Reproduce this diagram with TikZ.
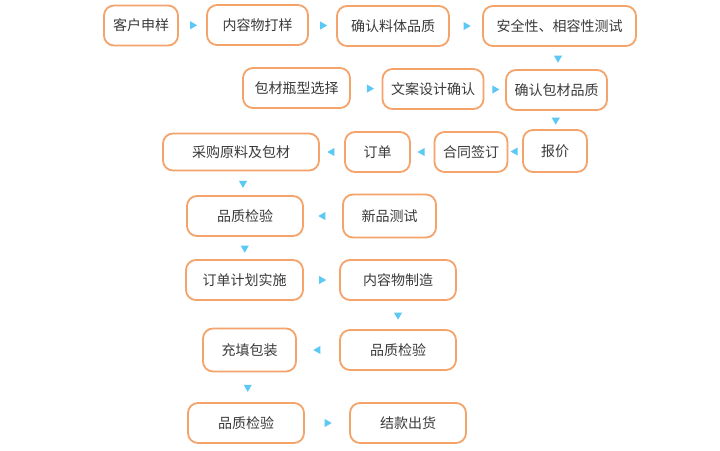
\documentclass[tikz,border=0pt]{standalone}
\usepackage{fontspec}
\newfontfamily\cjk{Noto Sans CJK SC}
\usetikzlibrary{shapes.geometric,calc}
\definecolor{boxc}{HTML}{F4A46A}
\definecolor{tric}{HTML}{5BC8F5}
\definecolor{txt}{HTML}{3A3A3A}
\tikzset{
  box/.style={draw=boxc, line width=1.8pt, rounded corners=10pt, minimum height=40pt,
    text=txt, font=\cjk\fontsize{14}{16}\selectfont, inner sep=0pt, fill=white},
  tri/.style={isosceles triangle, isosceles triangle apex angle=60, fill=tric,
    inner sep=0pt, minimum height=7pt, minimum width=8pt},
  tright/.style={tri, shape border rotate=0},
  tleft/.style={tri, shape border rotate=180},
  tdown/.style={tri, shape border rotate=270},
}
\begin{document}
\begin{tikzpicture}[x=1pt,y=1pt]
\useasboundingbox[fill=white] (0,0) rectangle (720,-450);
\node[box, minimum width=74pt] (n1) at (141,-25.5) {客户申样};
\node[box, minimum width=101pt] (n2) at (257.5,-25) {内容物打样};
\node[box, minimum width=112pt] (n3) at (393,-26) {确认料体品质};
\node[box, minimum width=153pt] (n4) at (559.5,-26) {安全性、相容性测试};
\node[box, minimum width=107pt] (n5) at (296.5,-88) {包材瓶型选择};
\node[box, minimum width=101pt] (n6) at (433,-89) {文案设计确认};
\node[box, minimum width=101pt] (n7) at (556.5,-90) {确认包材品质};
\node[box, minimum width=64pt, minimum height=42pt] (n8) at (555,-151) {报价};
\node[box, minimum width=73pt] (n9) at (471,-152) {合同签订};
\node[box, minimum width=65pt] (n10) at (377.5,-152) {订单};
\node[box, minimum width=156pt, minimum height=37pt] (n11) at (241,-152) {采购原料及包材};
\node[box, minimum width=116pt] (n12) at (245,-216) {品质检验};
\node[box, minimum width=93pt, minimum height=43pt] (n13) at (389.5,-216) {新品测试};
\node[box, minimum width=117pt] (n14) at (244.5,-280) {订单计划实施};
\node[box, minimum width=116pt] (n15) at (398,-280) {内容物制造};
\node[box, minimum width=116pt] (n16) at (398,-350) {品质检验};
\node[box, minimum width=93pt, minimum height=43pt] (n17) at (249.5,-350) {充填包装};
\node[box, minimum width=116pt] (n18) at (246,-423) {品质检验};
\node[box, minimum width=116pt] (n19) at (408,-423) {结款出货};
% arrow markers
\node[tright] (a1) at ($(n1.east)!0.5!(n2.west)$) {};
\node[tright] (a2) at ($(n2.east)!0.5!(n3.west)$) {};
\node[tright] (a3) at ($(n3.east)!0.5!(n4.west)$) {};
\node[tdown] (a4) at ($(n4.south)!0.5!(n7.north)$) {};
\node[tright] (a5) at ($(n5.east)!0.6!(n6.west)$) {};
\node[tright] (a6) at ($(n6.east)!0.5!(n7.west)$) {};
\node[tdown] (a7) at ($(n7.south)!0.5!(n8.north)$) {};
\node[tleft] (a8) at ($(n8.west)!0.5!(n9.east)$) {};
\node[tleft] (a9) at ($(n9.west)!0.5!(n10.east)$) {};
\node[tleft] (a10) at ($(n10.west)!0.5!(n11.east)$) {};
\node[tdown] (a11) at ($(n11.south)!0.5!(n12.north)$) {};
\node[tleft] (a12) at ($(n13.west)!0.5!(n12.east)$) {};
\node[tdown] (a13) at ($(n12.south)!0.5!(n14.north)$) {};
\node[tright] (a14) at ($(n14.east)!0.5!(n15.west)$) {};
\node[tdown] (a15) at ($(n15.south)!0.5!(n16.north)$) {};
\node[tleft] (a16) at ($(n16.west)!0.5!(n17.east)$) {};
\node[tdown] (a17) at ($(n17.south)!0.5!(n18.north)$) {};
\node[tright] (a18) at ($(n18.east)!0.5!(n19.west)$) {};
\end{tikzpicture}
\end{document}
